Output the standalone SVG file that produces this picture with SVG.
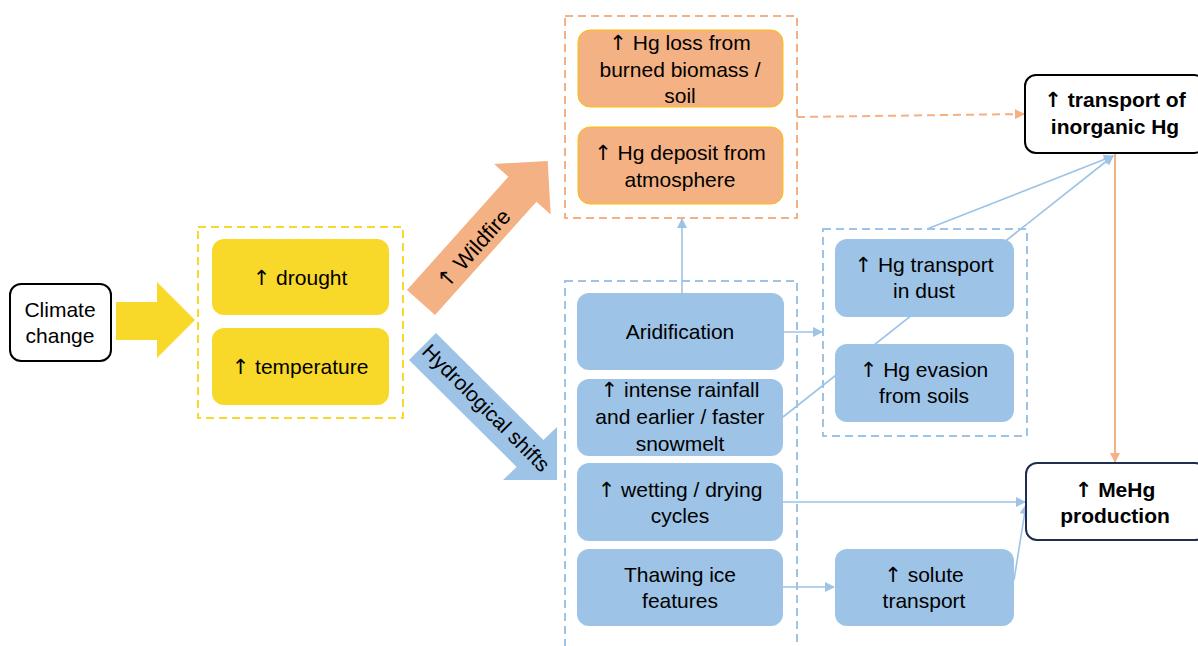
<svg xmlns="http://www.w3.org/2000/svg" width="1198" height="646" viewBox="0 0 1198 646">
<defs>
<style>
text{font-family:"Liberation Sans",Arial,sans-serif;font-size:21px;fill:#000;text-anchor:middle}
.u{font-family:"DejaVu Sans",sans-serif;fill:#000}
.b{font-weight:bold}
.yel{fill:#F8D92A}
.ora{fill:#F4B183;stroke:#FFC000;stroke-width:1}
.blu{fill:#9DC3E6}
.dy{fill:none;stroke:#F8D92A;stroke-width:2;stroke-dasharray:8 5}
.do{fill:none;stroke:#F4B183;stroke-width:2;stroke-dasharray:8 5}
.db{fill:none;stroke:#9DC3E6;stroke-width:2;stroke-dasharray:8 5}
.lb{fill:none;stroke:#9DC3E6;stroke-width:1.6}
.lo{fill:none;stroke:#F4B183;stroke-width:2}
</style>
<marker id="ab" viewBox="0 0 10 10" refX="9" refY="5" markerWidth="11" markerHeight="10" markerUnits="userSpaceOnUse" orient="auto"><path d="M0,0 L10,5 L0,10 z" fill="#9DC3E6"/></marker>
<marker id="ao" viewBox="0 0 10 10" refX="9" refY="5" markerWidth="11" markerHeight="10" markerUnits="userSpaceOnUse" orient="auto"><path d="M0,0 L10,5 L0,10 z" fill="#F4B183"/></marker>
</defs>
<rect width="1198" height="646" fill="#fff"/>

<g id="connectors">
<line class="lb" x1="682" y1="293" x2="682" y2="219" marker-end="url(#ab)"/>
<line class="lb" x1="784" y1="332" x2="822" y2="332" marker-end="url(#ab)"/>
<line class="lb" x1="783" y1="417" x2="1113" y2="156" marker-end="url(#ab)"/>
<line class="lb" x1="927" y1="229" x2="1113" y2="156" marker-end="url(#ab)"/>
<line class="lb" x1="783" y1="502" x2="1025" y2="502" marker-end="url(#ab)"/>
<line class="lb" x1="783" y1="587" x2="834" y2="587" marker-end="url(#ab)"/>
<line class="lb" x1="1014" y1="580" x2="1026" y2="505" marker-end="url(#ab)"/>
<line class="lo" x1="797" y1="117" x2="1024" y2="114" stroke-dasharray="8 5" marker-end="url(#ao)"/>
<line class="lo" x1="1115" y1="153" x2="1115" y2="462" marker-end="url(#ao)"/>
</g>

<g id="climate-change">
<rect x="10" y="284" width="101" height="77" rx="11" fill="#fff" stroke="#000" stroke-width="2"/>
<text x="60" y="317">Climate</text>
<text x="60" y="343">change</text>
</g>

<g id="arrow-climate">
<polygon class="yel" points="116,302 157,302 157,282 195,320 157,358 157,340 116,340"/>
</g>

<g id="group-yellow">
<rect class="dy" x="198" y="227" width="205" height="191"/>
</g>
<g id="drought">
<rect class="yel" x="212" y="239" width="177" height="76" rx="12"/>
<text x="300" y="285"><tspan class="u">↑</tspan> drought</text>
</g>
<g id="temperature">
<rect class="yel" x="212" y="328" width="177" height="77" rx="12"/>
<text x="300" y="374"><tspan class="u">↑</tspan> temperature</text>
</g>

<g id="arrow-wildfire">
<polygon fill="#F4B183" points="407,290 508.4,176.8 494.1,164 547.7,161 550.7,214.6 536.4,201.8 435,315"/>
<text transform="translate(474,249) rotate(-48)" y="7" style="font-size:22px"><tspan class="u">↑</tspan> Wildfire</text>
</g>

<g id="arrow-hydro">
<polygon fill="#9DC3E6" points="436,333 543.4,440.1 557,427 557,480 503,480 516.6,466.9 409,360"/>
<text transform="translate(486,408) rotate(45)" y="7">Hydrological shifts</text>
</g>

<g id="group-orange">
<rect class="do" x="565" y="16" width="232" height="202"/>
</g>
<g id="hg-loss">
<rect class="ora" x="578" y="30" width="205" height="77" rx="12"/>
<text x="680" y="50"><tspan class="u">↑</tspan> Hg loss from</text>
<text x="680" y="77">burned biomass /</text>
<text x="680" y="103">soil</text>
</g>
<g id="hg-deposit">
<rect class="ora" x="578" y="127" width="205" height="77" rx="12"/>
<text x="680" y="160"><tspan class="u">↑</tspan> Hg deposit from</text>
<text x="680" y="187">atmosphere</text>
</g>

<g id="group-hydro">
<rect class="db" x="565" y="281" width="232" height="380"/>
</g>
<g id="aridification">
<rect class="blu" x="577" y="293" width="207" height="77" rx="12"/>
<text x="680" y="339">Aridification</text>
</g>
<g id="intense-rainfall">
<rect class="blu" x="577" y="379" width="206" height="77" rx="12"/>
<text x="680" y="397"><tspan class="u">↑</tspan> intense rainfall</text>
<text x="680" y="424">and earlier / faster</text>
<text x="680" y="451">snowmelt</text>
</g>
<g id="wetting-drying">
<rect class="blu" x="577" y="463" width="206" height="78" rx="12"/>
<text x="680" y="497"><tspan class="u">↑</tspan> wetting / drying</text>
<text x="680" y="523">cycles</text>
</g>
<g id="thawing-ice">
<rect class="blu" x="577" y="549" width="206" height="77" rx="12"/>
<text x="680" y="582">Thawing ice</text>
<text x="680" y="608">features</text>
</g>

<g id="group-right">
<rect class="db" x="823" y="229" width="204" height="207"/>
</g>
<g id="hg-dust">
<rect class="blu" x="835" y="239" width="179" height="78" rx="12"/>
<text x="924" y="272"><tspan class="u">↑</tspan> Hg transport</text>
<text x="924" y="298">in dust</text>
</g>
<g id="hg-evasion">
<rect class="blu" x="835" y="344" width="179" height="78" rx="12"/>
<text x="924" y="377"><tspan class="u">↑</tspan> Hg evasion</text>
<text x="924" y="403">from soils</text>
</g>
<g id="solute">
<rect class="blu" x="835" y="549" width="179" height="77" rx="12"/>
<text x="924" y="582"><tspan class="u">↑</tspan> solute</text>
<text x="924" y="608">transport</text>
</g>

<g id="transport-inorganic">
<rect x="1025" y="75" width="180" height="78" rx="11" fill="#fff" stroke="#000" stroke-width="2"/>
<text class="b" x="1115" y="107"><tspan class="u">↑</tspan> transport of</text>
<text class="b" x="1115" y="134">inorganic Hg</text>
</g>
<g id="mehg">
<rect x="1026" y="463" width="180" height="77" rx="11" fill="#fff" stroke="#1F2D4F" stroke-width="2"/>
<text class="b" x="1115" y="497"><tspan class="u">↑</tspan> MeHg</text>
<text class="b" x="1115" y="523">production</text>
</g>
</svg>
